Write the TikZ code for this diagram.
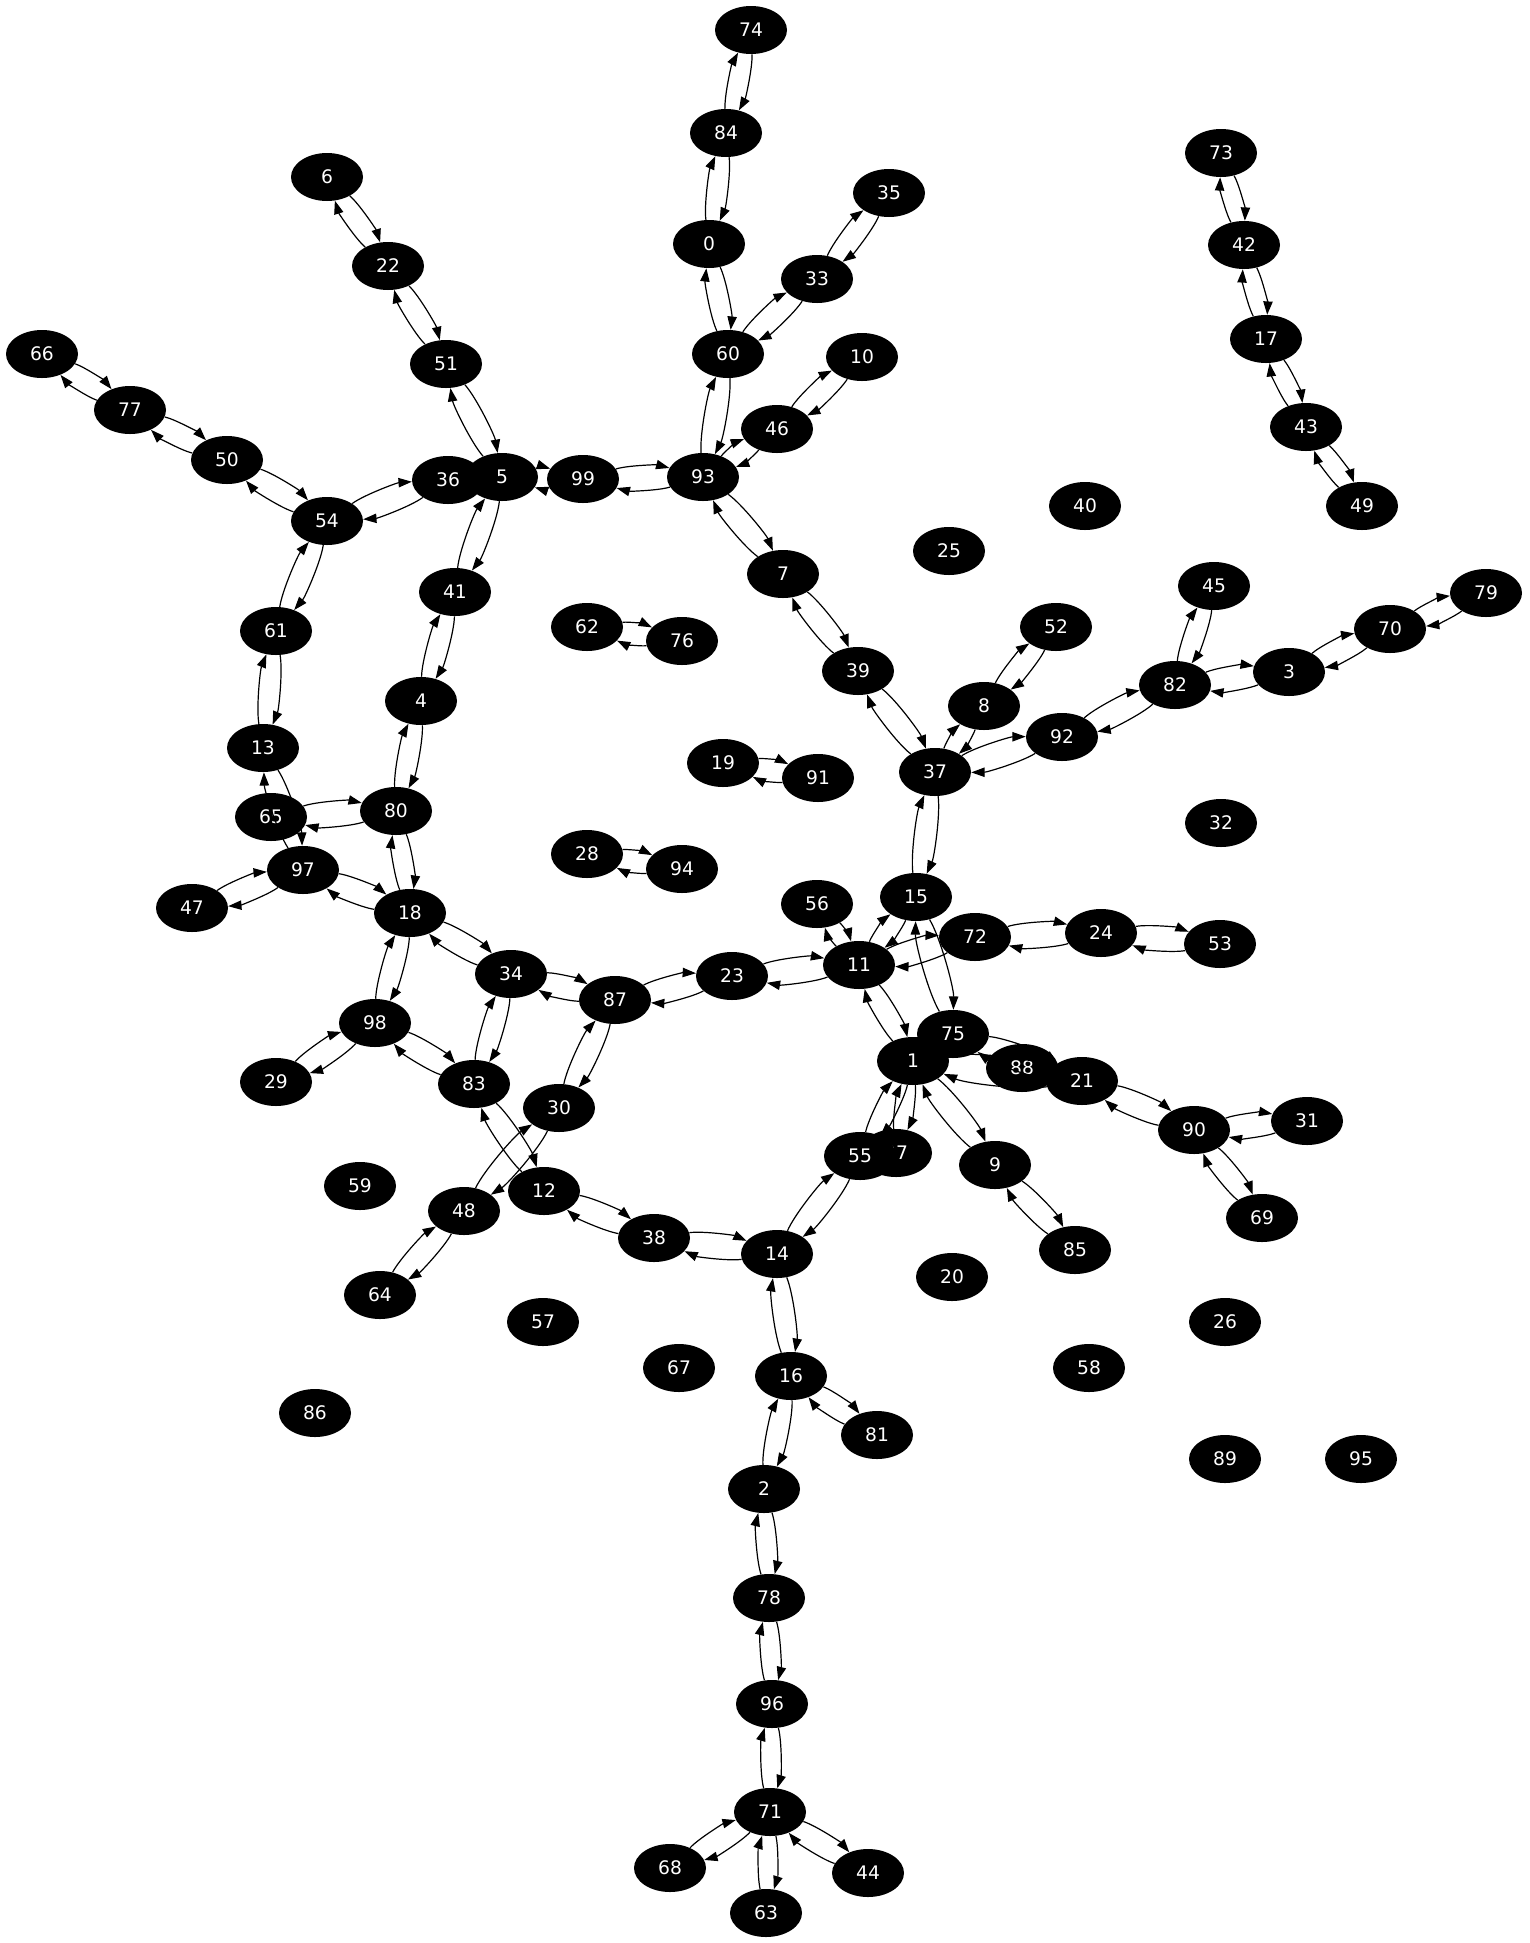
\documentclass[tikz,border=0pt]{standalone}
\usepackage{fontspec}
\setmainfont{DejaVu Sans}
\usetikzlibrary{arrows.meta,shapes.geometric}
\begin{document}
\begin{tikzpicture}[x=0.75pt,y=-0.75pt,
  nd/.style={ellipse, fill=black, text=white, minimum width=54pt, minimum height=36pt, inner sep=0pt, font=\fontsize{14}{16}\selectfont},
  ed/.style={-{Triangle[length=10pt,width=7pt]}, line width=0.9pt, bend left=16, looseness=0.6}]
\useasboundingbox (0,0) rectangle (1529,1943);
\foreach \n/\x/\y in {0/709/244, 1/913/1061, 2/764/1489, 3/1289/672, 4/421/701, 5/502/477, 6/327/177, 7/783/574, 8/984/706, 9/995/1165,
 10/862/357, 11/859/965, 12/544/1191, 13/263/748, 14/777/1254, 15/916/897, 16/791/1376, 17/1266/339, 18/410/913, 19/723/763,
 20/952/1277, 21/1082/1081, 22/388/266, 23/732/976, 24/1101/933, 25/949/551, 26/1225/1322, 27/896/1153, 28/587/854, 29/276/1082,
 30/559/1108, 31/1307/1121, 32/1221/823, 33/817/279, 34/511/974, 35/889/193, 36/448/480, 37/935/772, 38/654/1238, 39/858/671,
 40/1085/506, 41/455/592, 42/1244/245, 43/1306/427, 44/868/1873, 45/1214/586, 46/777/429, 47/192/908, 48/464/1211, 49/1362/506,
 50/227/460, 51/446/364, 52/1056/627, 53/1220/944, 54/327/521, 55/860/1156, 56/817/904, 57/543/1322, 58/1089/1368, 59/360/1186,
 60/728/354, 61/276/631, 62/587/627, 63/766/1913, 64/380/1295, 65/271/817, 66/42/354, 67/679/1368, 68/670/1868, 69/1262/1218,
 70/1390/629, 71/770/1812, 72/975/937, 73/1221/153, 74/751/30, 75/953/1034, 76/682/641, 77/130/410, 78/769/1598, 79/1486/593,
 80/396/811, 81/877/1435, 82/1175/685, 83/474/1084, 84/726/133, 85/1075/1250, 86/315/1413, 87/615/1000, 88/1022/1068, 89/1225/1459,
 90/1194/1130, 91/818/778, 92/1062/737, 93/703/477, 94/682/869, 95/1361/1459, 96/772/1704, 97/303/870, 98/375/1023, 99/583/479}
  \node[nd] (n\n) at (\x,\y) {\n};
\foreach \a/\b in {74/84, 84/0, 0/60, 60/33, 33/35, 60/93, 93/46, 46/10, 93/99, 99/5, 5/51, 51/22, 22/6, 5/41,
 36/54, 54/50, 50/77, 77/66, 54/61, 61/13, 13/97, 65/80, 80/4, 4/41, 80/18, 18/97, 97/47, 18/34, 18/98, 98/29,
 98/83, 83/34, 34/87, 87/23, 23/11, 87/30, 30/48, 48/64, 83/12, 12/38, 38/14, 14/55, 14/16, 16/81, 16/2, 2/78,
 78/96, 96/71, 71/68, 71/63, 71/44, 93/7, 7/39, 39/37, 37/8, 8/52, 37/92, 92/82, 82/45, 82/3, 3/70, 70/79,
 73/42, 42/17, 17/43, 43/49, 62/76, 19/91, 28/94, 37/15, 15/11, 11/56, 11/72, 72/24, 24/53, 11/1, 15/75,
 1/55, 1/27, 1/9, 9/85, 1/21, 75/21, 21/90, 90/31, 90/69}
 {\draw[ed] (n\a) to (n\b); \draw[ed] (n\b) to (n\a);}
\end{tikzpicture}
\end{document}
